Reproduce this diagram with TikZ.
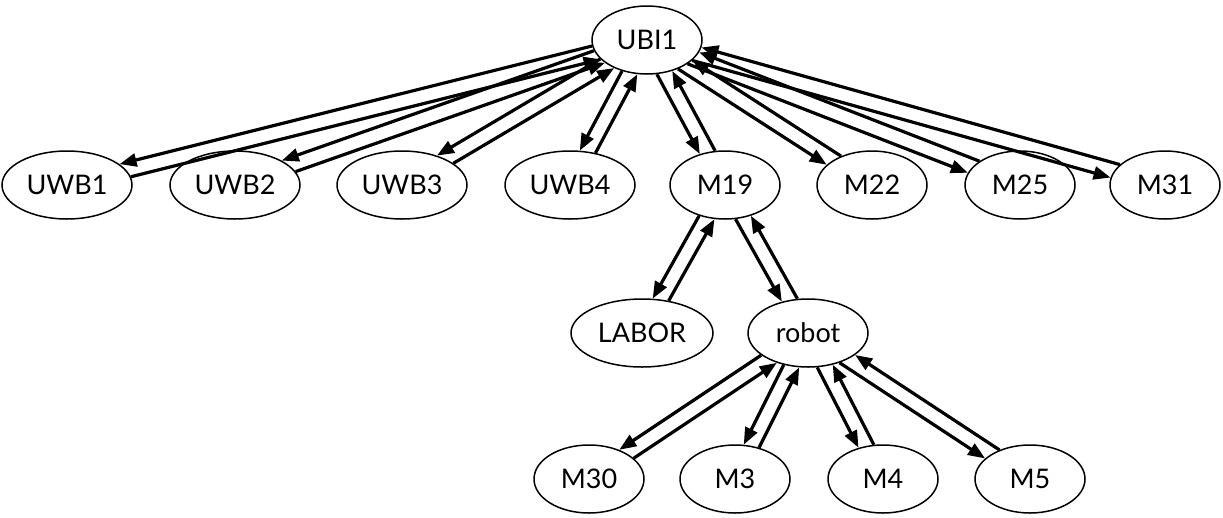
\documentclass[tikz,border=0pt]{standalone}
\usepackage{fontspec}
\setmainfont{Lato}
\usetikzlibrary{shapes.geometric,arrows.meta}

\newcommand\edist{7.5}
\newcommand\edgeone[4]{%
  \pgfpointanchor{#1}{center}\pgfgetlastxy{\edgPx}{\edgPy}%
  \pgfpointanchor{#1}{east}\pgfgetlastxy{\edgPex}{\edgTmp}%
  \pgfpointanchor{#1}{north}\pgfgetlastxy{\edgTmp}{\edgPny}%
  \pgfpointanchor{#2}{center}\pgfgetlastxy{\edgCx}{\edgCy}%
  \pgfpointanchor{#2}{east}\pgfgetlastxy{\edgCex}{\edgTmp}%
  \pgfpointanchor{#2}{north}\pgfgetlastxy{\edgTmp}{\edgCny}%
  \edef\edgL{\fpeval{sqrt(((\edgCx)-(\edgPx))^2+((\edgCy)-(\edgPy))^2)}}%
  \edef\edgUx{\fpeval{((\edgCx)-(\edgPx))/(\edgL)}}%
  \edef\edgUy{\fpeval{((\edgCy)-(\edgPy))/(\edgL)}}%
  \edef\edgQx{\fpeval{(#3)*(\edist)*(\edgUy)}}%
  \edef\edgQy{\fpeval{-(#3)*(\edist)*(\edgUx)}}%
  \edef\edgPa{\fpeval{(\edgPex)-(\edgPx)}}%
  \edef\edgPb{\fpeval{(\edgPny)-(\edgPy)}}%
  \edef\edgCa{\fpeval{(\edgCex)-(\edgCx)}}%
  \edef\edgCb{\fpeval{(\edgCny)-(\edgCy)}}%
  \edef\edgA{\fpeval{(\edgUx)^2/(\edgPa)^2+(\edgUy)^2/(\edgPb)^2}}%
  \edef\edgB{\fpeval{2*((\edgQx)*(\edgUx)/(\edgPa)^2+(\edgQy)*(\edgUy)/(\edgPb)^2)}}%
  \edef\edgC{\fpeval{(\edgQx)^2/(\edgPa)^2+(\edgQy)^2/(\edgPb)^2-1}}%
  \edef\edgT{\fpeval{(-(\edgB)+sqrt((\edgB)^2-4*(\edgA)*(\edgC)))/(2*(\edgA))}}%
  \edef\edgSx{\fpeval{round((\edgPx)+(\edgQx)+(\edgT)*(\edgUx),3)}}%
  \edef\edgSy{\fpeval{round((\edgPy)+(\edgQy)+(\edgT)*(\edgUy),3)}}%
  \edef\edgA{\fpeval{(\edgUx)^2/(\edgCa)^2+(\edgUy)^2/(\edgCb)^2}}%
  \edef\edgB{\fpeval{2*((\edgQx)*(\edgUx)/(\edgCa)^2+(\edgQy)*(\edgUy)/(\edgCb)^2)}}%
  \edef\edgC{\fpeval{(\edgQx)^2/(\edgCa)^2+(\edgQy)^2/(\edgCb)^2-1}}%
  \edef\edgT{\fpeval{((\edgB)+sqrt((\edgB)^2-4*(\edgA)*(\edgC)))/(2*(\edgA))}}%
  \edef\edgEx{\fpeval{round((\edgCx)+(\edgQx)-(\edgT)*(\edgUx),3)}}%
  \edef\edgEy{\fpeval{round((\edgCy)+(\edgQy)-(\edgT)*(\edgUy),3)}}%
  \draw[#4] (\edgSx pt,\edgSy pt) -- (\edgEx pt,\edgEy pt);%
}
\newcommand\pairedge[2]{\edgeone{#1}{#2}{1}{fwdedge}\edgeone{#1}{#2}{-1}{backedge}}

\tikzset{
  nd/.style={ellipse, draw, line width=1.5pt, minimum height=68pt, inner sep=0pt,
    font=\fontsize{27}{27}\selectfont},
  mw/.style={nd, minimum width=110pt},
  uw/.style={nd, minimum width=130pt},
  fwdedge/.style={line width=3.2pt, -{Triangle[length=17pt,width=13pt]}},
  backedge/.style={line width=3.2pt, {Triangle[length=17pt,width=13pt]}-},
}

\begin{document}
\begin{tikzpicture}[x=1pt,y=1pt]
\fill[white] (0,0) rectangle (1223,-517);
\useasboundingbox (0,0) rectangle (1223,-517);

\node[mw] (ubi) at (647,-40) {UBI1};
\node[uw] (uwb1) at (67,-185) {UWB1};
\node[uw] (uwb2) at (235,-185) {UWB2};
\node[uw] (uwb3) at (402,-185) {UWB3};
\node[uw] (uwb4) at (570,-185) {UWB4};
\node[mw] (m19) at (725,-185) {M19};
\node[mw] (m22) at (872,-185) {M22};
\node[mw] (m25) at (1020,-185) {M25};
\node[mw] (m31) at (1165,-185) {M31};
\node[nd, minimum width=142pt] (labor) at (642,-333) {LABOR};
\node[nd, minimum width=120pt] (robot) at (808,-333) {robot};
\node[mw] (m30) at (589,-479) {M30};
\node[mw] (m3) at (735,-479) {M3};
\node[mw] (m4) at (883,-479) {M4};
\node[mw] (m5) at (1030,-479) {M5};

\pairedge{ubi}{uwb1}
\pairedge{ubi}{uwb2}
\pairedge{ubi}{uwb3}
\pairedge{ubi}{uwb4}
\pairedge{ubi}{m19}
\pairedge{ubi}{m22}
\pairedge{ubi}{m25}
\pairedge{ubi}{m31}
\pairedge{m19}{labor}
\pairedge{m19}{robot}
\pairedge{robot}{m30}
\pairedge{robot}{m3}
\pairedge{robot}{m4}
\pairedge{robot}{m5}
\end{tikzpicture}
\end{document}
